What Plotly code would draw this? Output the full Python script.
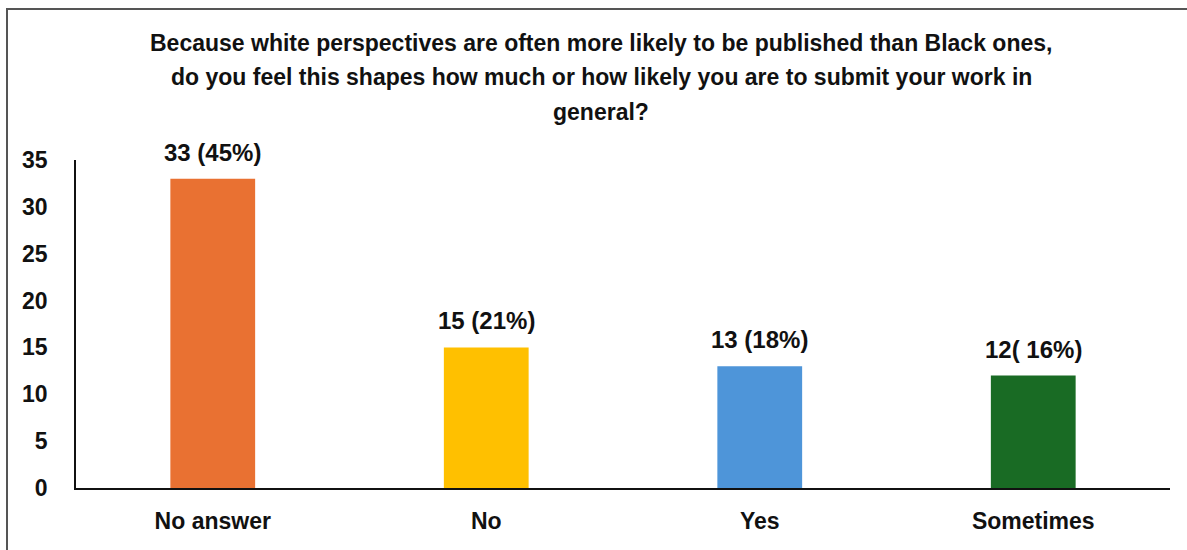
import plotly.graph_objects as go

# Survey responses
categories = ["No answer", "No", "Yes", "Sometimes"]
counts = [33, 15, 13, 12]
value_labels = ["33 (45%)", "15 (21%)", "13 (18%)", "12( 16%)"]
bar_colors = ["#E97132", "#FFC000", "#4E95D9", "#196B24"]
y_ticks = [0, 5, 10, 15, 20, 25, 30, 35]

title_lines = [
    "Because white perspectives are often more likely to be published than Black ones,",
    "do you feel this shapes how much or how likely you are to submit your work in",
    "general?",
]

FONT = "Liberation Sans, Arial, sans-serif"

fig = go.Figure(
    go.Bar(
        x=categories,
        y=counts,
        marker=dict(color=bar_colors, line=dict(width=0)),
        width=0.31,
        hoverinfo="x+y",
    )
)

# Value labels above each bar
for cat, val, lab in zip(categories, counts, value_labels):
    fig.add_annotation(
        x=cat, y=val, text=f"<b>{lab}</b>", showarrow=False,
        yanchor="bottom", yshift=11,
        font=dict(family=FONT, size=24, color="#111"),
    )

# Multi-line title, one annotation per line for spacing control
title_y = [43, 77, 112]
for line, ypx in zip(title_lines, title_y):
    fig.add_annotation(
        xref="paper", yref="paper",
        x=(601 - 76) / 1094, y=1 + (160 - ypx) / 328,
        text=f"<b>{line}</b>", showarrow=False,
        xanchor="center", yanchor="middle",
        font=dict(family=FONT, size=23, color="#111"),
    )

# Outer frame
fig.add_shape(
    type="rect", xref="paper", yref="paper",
    x0=(7 - 76) / 1094, x1=(1195 - 76) / 1094,
    y0=-(570 - 488) / 328, y1=1 + (160 - 9) / 328,
    line=dict(color="#555", width=2), fillcolor="rgba(0,0,0,0)",
    layer="below",
)

fig.update_layout(
    width=1187, height=550,
    margin=dict(l=76, r=17, t=160, b=62),
    paper_bgcolor="white", plot_bgcolor="white",
    showlegend=False,
    font=dict(family=FONT, color="#111"),
)
fig.update_xaxes(
    showgrid=False, showline=True, linecolor="#111", linewidth=1.5,
    ticks="", ticklabelstandoff=12,
    tickfont=dict(family=FONT, size=23, color="#111", weight="bold"),
    range=[-0.5, 3.5],
)
fig.update_yaxes(
    range=[0, 35], tickvals=y_ticks, showgrid=False, zeroline=False,
    showline=True, linecolor="#111", linewidth=1.5,
    ticks="", ticklabelstandoff=22,
    tickfont=dict(family=FONT, size=23, color="#111", weight="bold"),
)

fig.write_html("out.html")
